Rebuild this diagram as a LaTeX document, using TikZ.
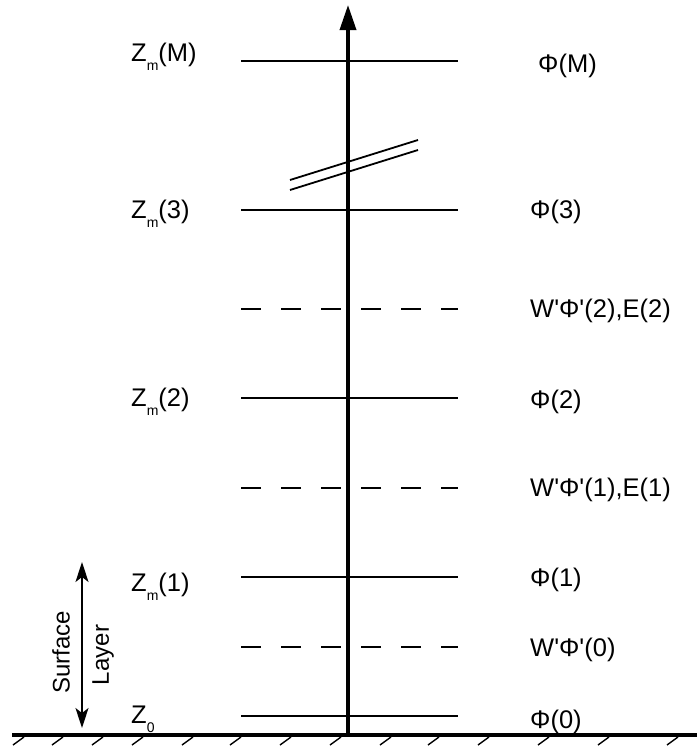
\documentclass[tikz,border=0pt]{standalone}
\usepackage{fontspec}
\setmainfont{Liberation Sans}[Ligatures=TeXOff]
\usetikzlibrary{arrows.meta}
\newcommand{\zsub}[1]{\raisebox{-9pt}{\fontsize{14}{14}\selectfont #1}}
\begin{document}
\begin{tikzpicture}[x=1pt,y=-1pt,
  lbl/.style={inner sep=0pt,anchor=base west,font=\fontsize{25.5}{28}\selectfont},
  rlbl/.style={inner sep=0pt,rotate=90,font=\fontsize{24}{26}\selectfont},
  level/.style={line width=1.8pt},
  dlevel/.style={line width=1.8pt,dash pattern=on 20pt off 20pt},
  hatch/.style={line width=1.4pt}]
\useasboundingbox (0,0) rectangle (697,747);
% ground
\coordinate (gl) at (12,735);
\coordinate (gr) at (697,735);
\draw[line width=3.5pt] (gl) -- (gr);
\foreach \hx in {13,52,92,132,182,230,280,330,380,428,478,538,598,667}
  \draw[hatch] (\hx,745) -- ++(11,-8);
% level lines
\foreach \nm/\yy in {M/61,L3/210,L2/398,L1/577,L0/716}{
  \coordinate (\nm a) at (241,\yy);
  \coordinate (\nm b) at (458,\yy);
  \draw[level] (\nm a) -- (\nm b);
}
\foreach \nm/\yy in {D2/309,D1/488,D0/647}{
  \coordinate (\nm a) at (241,\yy);
  \coordinate (\nm b) at (458,\yy);
  \draw[dlevel] (\nm a) -- (\nm b);
}
% break mark
\coordinate (b1a) at (290,180); \coordinate (b1b) at (418,140);
\coordinate (b2a) at (290,190); \coordinate (b2b) at (418,150);
\draw[level] (b1a) -- (b1b);
\draw[level] (b2a) -- (b2b);
% main axis
\coordinate (ax0) at (348,735);
\coordinate (ax1) at (348,5);
\draw[line width=3.5pt,-{Triangle[length=25pt,width=16pt]}] (ax0) -- (ax1);
% surface layer arrow
\coordinate (s0) at (82,562);
\coordinate (s1) at (82,728);
\draw[line width=1.5pt,{Stealth[length=20pt,width=13pt,inset=5pt]}-{Stealth[length=20pt,width=13pt,inset=5pt]}] (s0) -- (s1);
\node[rlbl] (surf) at (61,652) {Surface};
\node[rlbl] (layer) at (103,655) {Layer};
% left labels
\node[lbl] (zM) at (131,61) {Z\zsub{m}(M)};
\node[lbl] (z3) at (131,218) {Z\zsub{m}(3)};
\node[lbl] (z2) at (131,406) {Z\zsub{m}(2)};
\node[lbl] (z1) at (131,591) {Z\zsub{m}(1)};
\node[lbl] (z0) at (131,723) {Z\zsub{0}};
% right labels
\node[lbl] (pM) at (538,72) {Φ(M)};
\node[lbl] (p3) at (530,218) {Φ(3)};
\node[lbl] (w2) at (530,317) {W'Φ'(2),E(2)};
\node[lbl] (p2) at (530,408) {Φ(2)};
\node[lbl] (w1) at (530,496) {W'Φ'(1),E(1)};
\node[lbl] (p1) at (530,586) {Φ(1)};
\node[lbl] (w0) at (530,656) {W'Φ'(0)};
\node[lbl] (p0) at (530,728) {Φ(0)};
\end{tikzpicture}
\end{document}
